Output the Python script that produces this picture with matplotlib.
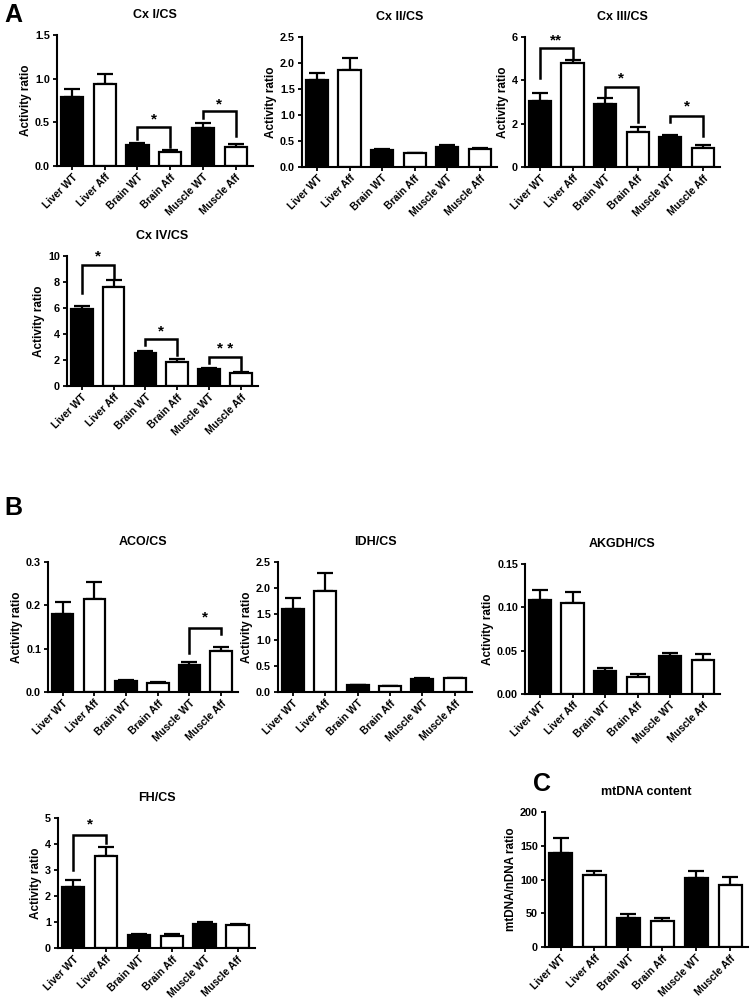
import numpy as np
import matplotlib
matplotlib.use('Agg')
import matplotlib.pyplot as plt

plt.rcParams['font.family'] = ['Liberation Sans', 'DejaVu Sans']

groups = ['Liver WT', 'Liver Aff', 'Brain WT', 'Brain Aff', 'Muscle WT', 'Muscle Aff']

# means and upper error bar ends (mean + SEM)
cx1_vals = [0.79, 0.94, 0.24, 0.165, 0.435, 0.22]
cx1_tops = [0.88, 1.05, 0.26, 0.18, 0.49, 0.25]
cx2_vals = [1.68, 1.86, 0.32, 0.26, 0.39, 0.34]
cx2_tops = [1.80, 2.09, 0.34, 0.27, 0.42, 0.37]
cx3_vals = [3.05, 4.82, 2.92, 1.60, 1.37, 0.90]
cx3_tops = [3.40, 4.92, 3.20, 1.83, 1.46, 1.00]
cx4_vals = [5.90, 7.64, 2.57, 1.87, 1.32, 0.98]
cx4_tops = [6.15, 8.15, 2.70, 2.10, 1.40, 1.08]
aco_vals = [0.180, 0.215, 0.025, 0.020, 0.062, 0.094]
aco_tops = [0.208, 0.254, 0.027, 0.023, 0.069, 0.104]
idh_vals = [1.59, 1.95, 0.13, 0.11, 0.25, 0.26]
idh_tops = [1.80, 2.29, 0.14, 0.12, 0.27, 0.265]
akg_vals = [0.1085, 0.105, 0.026, 0.0197, 0.044, 0.039]
akg_tops = [0.120, 0.118, 0.030, 0.0235, 0.047, 0.046]
fh_vals = [2.36, 3.55, 0.51, 0.48, 0.93, 0.89]
fh_tops = [2.61, 3.87, 0.54, 0.54, 0.99, 0.93]
mt_vals = [139, 107, 43.6, 39, 102, 92]
mt_tops = [162, 113, 48.5, 43.6, 112, 104]

# brackets: (left bar, right bar, top y, left leg end, right leg end, label, label y)
cx1_br = [(2, 3, 0.45, 0.31, 0.22, '*', 0.53), (4, 5, 0.63, 0.55, 0.34, '*', 0.71)]
cx3_br = [(0, 1, 5.5, 4.1, 5.03, '**', 5.85), (2, 3, 3.69, 3.3, 2.1, '*', 4.1),
          (4, 5, 2.37, 2.06, 1.44, '*', 2.8)]
cx4_br = [(0, 1, 9.3, 7.13, 8.28, '*', 9.95), (2, 3, 3.59, 3.15, 2.38, '*', 4.2),
          (4, 5, 2.2, 1.74, 1.2, '* *', 2.85)]
aco_br = [(4, 5, 0.148, 0.09, 0.135, '*', 0.171)]
fh_br = [(0, 1, 4.36, 3.0, 4.02, '*', 4.75)]

W, H = 751, 1002
fig = plt.figure(figsize=(W / 100, H / 100), dpi=100)


def make_ax(x0, x1, y0, y1):
    return fig.add_axes([x0 / W, 1 - y1 / H, (x1 - x0) / W, (y1 - y0) / H])


def bar_panel(ax, title, vals, tops, ymax, yticks, fmt, ylabel='Activity ratio', brackets=()):
    x = np.arange(len(groups))
    colors = ['black', 'white'] * 3
    ax.bar(x, vals, width=0.68, color=colors, edgecolor='black', linewidth=1.6, zorder=2)
    low = np.zeros(len(vals))
    up = np.array(tops) - np.array(vals)
    ax.errorbar(x, vals, yerr=[low, up], fmt='none', ecolor='black',
                elinewidth=1.6, capsize=5.5, capthick=1.6, zorder=1)
    for i, j, top, li, ri, lab, ly in brackets:
        ax.plot([i, i, j, j], [li, top, top, ri], color='black', lw=1.8,
                solid_joinstyle='miter', clip_on=False)
        ax.text((i + j) / 2, ly, lab, ha='center', va='center', fontsize=11,
                fontweight='bold')
    ax.set_xlim(-0.46, 5.53)
    ax.set_ylim(0, ymax)
    ax.set_yticks(yticks)
    ax.set_yticklabels([fmt.format(v) for v in yticks])
    ax.set_xticks(x)
    ax.set_xticklabels(groups, rotation=45, ha='right', rotation_mode='anchor')
    for s in ['top', 'right']:
        ax.spines[s].set_visible(False)
    for s in ['left', 'bottom']:
        ax.spines[s].set_linewidth(1.5)
    ax.tick_params(width=1.3, length=3, labelsize=7.8, pad=2)
    ax.tick_params(axis='x', labelsize=7.5, pad=1.5)
    for t in ax.get_xticklabels() + ax.get_yticklabels():
        t.set_fontweight('bold')
    ax.set_ylabel(ylabel, fontsize=8.5, fontweight='bold', labelpad=2)
    ax.set_title(title, fontsize=9, fontweight='bold', pad=12)


bar_panel(make_ax(57, 253, 35, 166), 'Cx I/CS', cx1_vals, cx1_tops, 1.5,
          [0, 0.5, 1.0, 1.5], '{:.1f}', brackets=cx1_br)
bar_panel(make_ax(302, 497, 37, 167), 'Cx II/CS', cx2_vals, cx2_tops, 2.5,
          [0, 0.5, 1.0, 1.5, 2.0, 2.5], '{:.1f}')
bar_panel(make_ax(525, 720, 37, 167), 'Cx III/CS', cx3_vals, cx3_tops, 6,
          [0, 2, 4, 6], '{:.0f}', brackets=cx3_br)
bar_panel(make_ax(67, 258, 256, 386), 'Cx IV/CS', cx4_vals, cx4_tops, 10,
          [0, 2, 4, 6, 8, 10], '{:.0f}', brackets=cx4_br)
bar_panel(make_ax(48, 238, 562, 692), 'ACO/CS', aco_vals, aco_tops, 0.3,
          [0, 0.1, 0.2, 0.3], '{:.1f}', brackets=aco_br)
bar_panel(make_ax(278, 472, 562, 692), 'IDH/CS', idh_vals, idh_tops, 2.5,
          [0, 0.5, 1.0, 1.5, 2.0, 2.5], '{:.1f}')
bar_panel(make_ax(525, 720, 564, 694), 'AKGDH/CS', akg_vals, akg_tops, 0.15,
          [0, 0.05, 0.10, 0.15], '{:.2f}')
bar_panel(make_ax(58, 255, 818, 948), 'FH/CS', fh_vals, fh_tops, 5,
          [0, 1, 2, 3, 4, 5], '{:.0f}', brackets=fh_br)
bar_panel(make_ax(545, 748, 812, 947), 'mtDNA content', mt_vals, mt_tops, 200,
          [0, 50, 100, 150, 200], '{:.0f}', ylabel='mtDNA/nDNA ratio')

for lab, px, py in [('A', 4, 3), ('B', 4, 496), ('C', 533, 772)]:
    fig.text(px / W, 1 - py / H, lab, fontsize=18, fontweight='bold', va='top', ha='left')

fig.savefig('out.png', dpi=100)
